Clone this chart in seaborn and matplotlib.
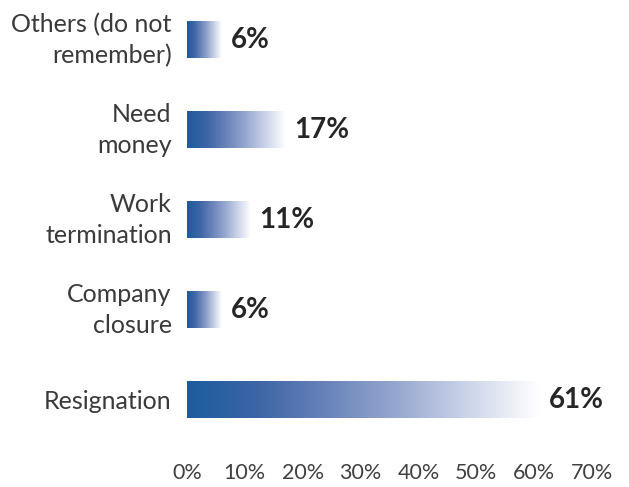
import numpy as np
import pandas as pd
import matplotlib
matplotlib.use("Agg")
import matplotlib.pyplot as plt
from matplotlib.colors import LinearSegmentedColormap
import seaborn as sns

categories = ["Others (do not\nremember)", "Need\nmoney", "Work\ntermination",
              "Company\nclosure", "Resignation"]
values = [6, 17, 11, 6, 61]
tick_values = [0, 10, 20, 30, 40, 50, 60, 70]
tick_labels = ["0%", "10%", "20%", "30%", "40%", "50%", "60%", "70%"]

sns.set_theme(style="white")
plt.rcParams["font.family"] = ["Lato", "DejaVu Sans"]

df = pd.DataFrame({"reason": categories, "share": values})

fig = plt.figure(figsize=(6.29, 4.87), dpi=100)
ax = fig.add_axes([187 / 629, 1 - 445 / 487, (592 - 187) / 629, 445 / 487])

sns.barplot(data=df, y="reason", x="share", orient="h", ax=ax,
            width=0.4, color="#1b5c9e", saturation=1)

# horizontal blue-to-white fill on each bar
cmap = LinearSegmentedColormap.from_list(
    "fade", ["#1b5c9e", "#3d65a6", "#6a84ba", "#98a9d0", "#cdd5ea", "#ffffff"])
grad = np.linspace(0, 1, 256).reshape(1, -1)
for p in list(ax.patches):
    x0, y0, w, h = p.get_x(), p.get_y(), p.get_width(), p.get_height()
    ax.imshow(grad, extent=[x0, x0 + w, y0 + h, y0], cmap=cmap,
              aspect="auto", interpolation="bicubic", zorder=2)
    p.set_visible(False)

for i, v in enumerate(values):
    ax.annotate(f"{v}%", xy=(v, i), xytext=(6.5, 0), textcoords="offset points",
                ha="left", va="center", fontsize=20, fontweight="bold",
                color="#262626")

ax.set_xlim(0, 70)
ax.set_ylim(4.5, -0.444)
ax.set_xticks(tick_values)
ax.set_xticklabels(tick_labels, fontsize=15.5, color="#404040")
ax.tick_params(axis="x", length=0, pad=13)
ax.tick_params(axis="y", length=0, pad=11)
for lbl in ax.get_yticklabels():
    lbl.set_fontsize(18)
    lbl.set_color("#3a3a3a")
    lbl.set_linespacing(1.4)
    # two-line labels are centred as a block; single lines sit on the baseline centre
    if "\n" in lbl.get_text():
        lbl.set_verticalalignment("center")
ax.set_xlabel("")
ax.set_ylabel("")
for s in ax.spines.values():
    s.set_visible(False)

fig.savefig("out.png", dpi=100)
